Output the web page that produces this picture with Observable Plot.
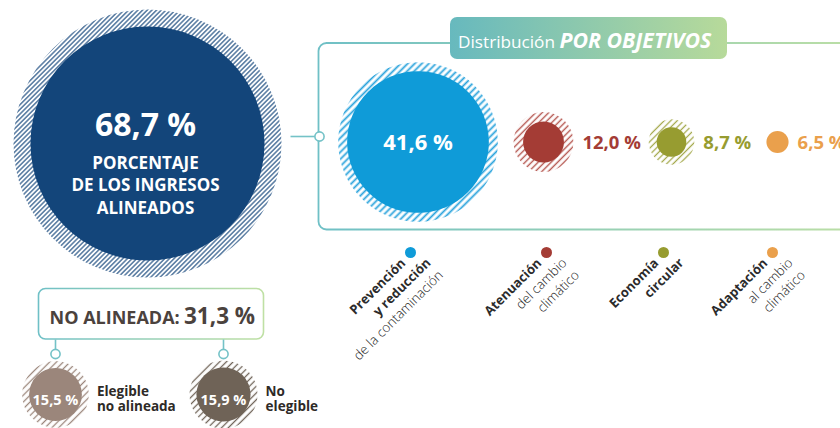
<!DOCTYPE html>
<html><head><meta charset="utf-8">
<script src="https://cdn.jsdelivr.net/npm/d3@7"></script>
<script src="https://cdn.jsdelivr.net/npm/@observablehq/plot@0.6"></script>
<style>
html,body{margin:0;padding:0;background:#fff;}
#chart svg{display:block;}
</style>
</head><body><div id="chart"></div>
<script>
// ---------------- data ----------------
const alignedValue = 68.7;
const alignedLines = ["PORCENTAJE", "DE LOS INGRESOS", "ALINEADOS"];
const objectiveTitle = ["Distribución", "POR OBJETIVOS"];
const objectives = ["Prevención y reducción de la contaminación", "Atenuación del cambio climático", "Economía circular", "Adaptación al cambio climático"];
const objectiveValues = [41.6, 12.0, 8.7, 6.5];
const objectiveBold = [["Prevención", "y reducción"], ["Atenuación"], ["Economía", "circular"], ["Adaptación"]];
const objectiveLight = [["de la contaminación"], ["del cambio", "climático"], [], ["al cambio", "climático"]];
const notAlignedLabel = "NO ALINEADA:";
const notAlignedValue = 31.3;
const notAlignedParts = [["Elegible", "no alineada"], ["No", "elegible"]];
const notAlignedValues = [15.5, 15.9];

// ---------------- styles / layout ----------------
const FONT = "'Open Sans', 'Noto Sans', sans-serif";
const colNavy = "#13457a";
const objColors = ["#0f9bd8", "#a43c35", "#979c30", "#eaa04c"];
const subColors = ["#9b867b", "#6f6357"];
const teal = "#74c2c7";
const RMAX = 100, RPX = 170.3;           // r scale: percent -> pixels
const k = RPX / RMAX;
const fmt = v => v.toFixed(1).replace(".", ",") + " %";

const navyPos = {x: 147, y: 143};
const objCx = [417.5, 543, 671, 777], objCy = 141.5;
const objPad = [9, 9.5, 8, 0];
const legendX = [410, 546, 663, 772], legendY = 252;
const subCx = [55, 223], subCy = 394;

// ---------------- derived tables ----------------
const navyData = [{x: navyPos.x, y: navyPos.y, v: alignedValue, pad: 17, hatch: "url(#h-navy)", fill: colNavy}];
const objData = objectiveValues.map((v, i) => ({x: objCx[i], y: objCy, v, pad: objPad[i], hatch: `url(#h-obj${i})`, fill: objColors[i], name: objectives[i]}));
const subData = notAlignedValues.map((v, i) => ({x: subCx[i], y: subCy, v, pad: 7, hatch: `url(#h-sub${i})`, fill: subColors[i]}));
const allCircles = [...navyData, ...objData, ...subData];
const hatched = allCircles.filter(d => d.pad > 0);

const sideValues = objData.slice(1).map(d => ({x: d.x + d.v * k + d.pad + 9, y: objCy + 1, text: fmt(d.v), fill: d.fill}));

const labelRows = [];
objectives.forEach((name, i) => {
  const lines = [...objectiveBold[i].map(t => ({t, bold: true})), ...objectiveLight[i].map(t => ({t, bold: false}))];
  lines.forEach((ln, j) => {
    const u = j === 0 ? -11 : 7;
    const v = 1 + j * 17.5;
    labelRows.push({x: legendX[i] + (u + v) / Math.SQRT2, y: legendY + (v - u) / Math.SQRT2, text: ln.t, bold: ln.bold});
  });
});

const subLabels = subData.map((d, i) => ({x: d.x + d.v * k + 15, y: 394.5, text: notAlignedParts[i].join("\n")}));

const bigBox = [{x1: 318.5, x2: 880, y1: 43, y2: 229.5}];
const pill = [{x1: 450, x2: 727, y1: 17, y2: 59}];
const smallBox = [{x1: 38.5, x2: 263.5, y1: 288.5, y2: 339}];
const connH = [{x1: 290, x2: 314.5, y: 136}];
const connV = subCx.map(x => ({x, y1: 339, y2: 349}));
const connDots = [{x: 319, y: 136}, ...subCx.map(x => ({x, y: 353.5}))];

const svg = Plot.plot({
  width: 840, height: 428,
  margin: 0,
  x: {domain: [0, 840], range: [0, 840], axis: null},
  y: {domain: [0, 428], range: [0, 428], axis: null},
  r: {type: "linear", domain: [0, RMAX], range: [0, RPX]},
  color: {type: "identity"},
  style: {background: "white", fontFamily: FONT},
  marks: [
    Plot.rect(bigBox, {x1: "x1", x2: "x2", y1: "y1", y2: "y2", rx: 8, fill: "none", stroke: "url(#g-line)", strokeWidth: 1.8}),
    Plot.rect(smallBox, {x1: "x1", x2: "x2", y1: "y1", y2: "y2", rx: 7, fill: "white", stroke: "url(#g-line)", strokeWidth: 1.6}),
    Plot.rect(pill, {x1: "x1", x2: "x2", y1: "y1", y2: "y2", rx: 7, fill: "url(#g-pill)"}),
    Plot.link(connH, {x1: "x1", x2: "x2", y1: "y", y2: "y", stroke: teal, strokeWidth: 1.6}),
    Plot.link(connV, {x1: "x", x2: "x", y1: "y1", y2: "y2", stroke: teal, strokeWidth: 1.6}),
    Plot.dot(connDots, {x: "x", y: "y", r: 4.6, fill: "white", stroke: teal, strokeWidth: 1.6}),
    // hatched halos
    Plot.dot(hatched, {x: "x", y: "y", r: d => d.v + d.pad / k, fill: "hatch"}),
    // solid circles
    Plot.dot(allCircles, {x: "x", y: "y", r: "v", fill: "fill"}),
    // navy circle texts
    Plot.text(navyData, {x: d => d.x - 2, y: d => d.y - 8, text: d => fmt(d.v), fill: "white", fontSize: 32, fontWeight: 700, lineAnchor: "bottom", fontFamily: FONT}),
    Plot.text(alignedLines, {x: navyPos.x - 2, y: (d, i) => navyPos.y + 25 + i * 22.5, text: d => d, fill: "white", fontSize: 17, fontWeight: 700, lineAnchor: "bottom", fontFamily: FONT}),
    // title pill
    Plot.text([objectiveTitle[0]], {x: 457.5, y: 47, text: d => d, fill: "white", fontSize: 17.2, fontWeight: 400, textAnchor: "start", lineAnchor: "bottom", fontFamily: FONT}),
    Plot.text([objectiveTitle[1]], {x: 559, y: 47.5, text: d => d, fill: "white", fontSize: 21.3, fontWeight: 700, fontStyle: "italic", textAnchor: "start", lineAnchor: "bottom", fontFamily: FONT}),
    // objective values
    Plot.text(objData.slice(0, 1), {x: "x", y: d => d.y + 1, text: d => fmt(d.v), fill: "white", fontSize: 22, fontWeight: 700, fontFamily: FONT}),
    Plot.text(sideValues, {x: "x", y: "y", text: "text", fill: "fill", fontSize: 18.5, fontWeight: 700, textAnchor: "start", fontFamily: FONT}),
    // legend dots & rotated labels
    Plot.dot(objData, {x: (d, i) => legendX[i], y: legendY, r: 5.5, fill: "fill"}),
    Plot.text(labelRows.filter(d => d.bold), {x: "x", y: "y", text: "text", rotate: -45, textAnchor: "end", fill: "#2b2b2b", fontSize: 13, fontWeight: 700, fontFamily: FONT}),
    Plot.text(labelRows.filter(d => !d.bold), {x: "x", y: "y", text: "text", rotate: -45, textAnchor: "end", fill: "#222222", fontSize: 13.3, fontWeight: 300, fontFamily: FONT}),
    // not aligned box
    Plot.text([notAlignedLabel], {x: 49, y: 323.5, text: d => d, fill: "#4b423d", fontSize: 18, fontWeight: 700, textAnchor: "start", lineAnchor: "bottom", fontFamily: FONT}),
    Plot.text([notAlignedValue], {x: 183.5, y: 323.5, text: d => fmt(d), fill: "#4b423d", fontSize: 22.5, fontWeight: 700, textAnchor: "start", lineAnchor: "bottom", fontFamily: FONT}),
    Plot.text(subData, {x: "x", y: 404, text: d => fmt(d.v), fill: "white", fontSize: 14.5, fontWeight: 700, lineAnchor: "bottom", fontFamily: FONT}),
    Plot.text(subLabels, {x: "x", y: 384, text: "text", fill: "#2e2a27", fontSize: 13.5, lineHeight: 1.15, fontWeight: 700, textAnchor: "start", lineAnchor: "top", fontFamily: FONT})
  ]
});

// defs: hatch patterns and gradients
const defs = d3.select(svg).insert("defs", ":first-child");
const hatchDefs = [
  {id: "h-navy", color: colNavy, period: 3.3, width: 1.1},
  {id: "h-obj0", color: "#2aa3dc", period: 5, width: 1.8},
  {id: "h-obj1", color: "#b3524b", period: 4.6, width: 1.4},
  {id: "h-obj2", color: "#a3a84a", period: 4.6, width: 1.3},
  {id: "h-obj3", color: objColors[3], period: 4.6, width: 1.3},
  {id: "h-sub0", color: subColors[0], period: 4.8, width: 1.3},
  {id: "h-sub1", color: subColors[1], period: 4.8, width: 1.3}
];
hatchDefs.forEach(h => {
  const p = defs.append("pattern").attr("id", h.id).attr("patternUnits", "userSpaceOnUse")
    .attr("width", h.period).attr("height", h.period).attr("patternTransform", "rotate(45)");
  p.append("line").attr("x1", h.period / 2).attr("x2", h.period / 2).attr("y1", -1).attr("y2", h.period + 1)
    .attr("stroke", h.color).attr("stroke-width", h.width);
});
const gl = defs.append("linearGradient").attr("id", "g-line").attr("x1", 0).attr("x2", 1).attr("y1", 0).attr("y2", 0);
gl.append("stop").attr("offset", 0).attr("stop-color", "#6fc0c6");
gl.append("stop").attr("offset", 1).attr("stop-color", "#bfe0a4");
const gp = defs.append("linearGradient").attr("id", "g-pill").attr("x1", 0).attr("x2", 1).attr("y1", 0).attr("y2", 0);
gp.append("stop").attr("offset", 0).attr("stop-color", "#67b9be");
gp.append("stop").attr("offset", 1).attr("stop-color", "#b7da9a");

document.getElementById("chart").appendChild(svg);
</script>
</body></html>
